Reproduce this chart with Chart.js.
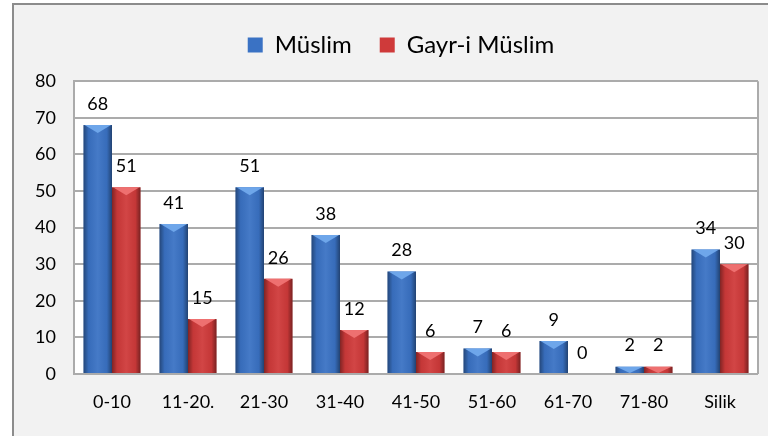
<!DOCTYPE html>
<html>
<head>
<meta charset="utf-8">
<script src="https://cdn.jsdelivr.net/npm/chart.js@4"></script>
<style>
html, body { margin: 0; padding: 0; background: #fff; }
#wrap { width: 768px; height: 436px; position: relative; }
</style>
</head>
<body>
<div id="wrap"><canvas id="myChart"></canvas></div>
<script>
const labels = ['0-10', '11-20.', '21-30', '31-40', '41-50', '51-60', '61-70', '71-80', 'Silik'];
const muslim = [68, 41, 51, 38, 28, 7, 9, 2, 34];
const gayriMuslim = [51, 15, 26, 12, 6, 6, 0, 2, 30];
const yTicks = [0, 10, 20, 30, 40, 50, 60, 70, 80];

const FONT = 'Lato';

// frame, plot background, bar shading and value labels
const barLook = {
    id: 'barLook',
    beforeDraw(chart) {
        const c = chart.ctx, a = chart.chartArea;
        c.save();
        c.fillStyle = '#fff';
        c.fillRect(0, 0, chart.width, chart.height);
        c.fillStyle = '#f2f2f2';
        c.fillRect(13, 4, chart.width, chart.height);
        c.strokeStyle = '#8c8c8c';
        c.lineWidth = 2;
        c.beginPath();
        c.moveTo(13, chart.height);
        c.lineTo(13, 4);
        c.lineTo(chart.width, 4);
        c.stroke();
        c.fillStyle = '#fff';
        c.fillRect(a.left, a.top, a.width, a.height);
        c.restore();
    },
    afterDatasetsDraw(chart) {
        const c = chart.ctx;
        c.save();
        chart.data.datasets.forEach((ds, i) => {
            chart.getDatasetMeta(i).data.forEach((bar) => {
                const w = bar.width, l = bar.x - w / 2;
                const top = Math.min(bar.y, bar.base), h = Math.abs(bar.base - bar.y);
                if (h < 0.5) return;
                const g = c.createLinearGradient(l, 0, l + w, 0);
                g.addColorStop(0, 'rgba(0,0,0,0.38)');
                g.addColorStop(0.18, 'rgba(0,0,0,0.05)');
                g.addColorStop(0.5, 'rgba(255,255,255,0.06)');
                g.addColorStop(0.82, 'rgba(0,0,0,0.05)');
                g.addColorStop(1, 'rgba(0,0,0,0.42)');
                c.fillStyle = g;
                c.fillRect(l, top, w, h);
                const ch = Math.min(8, h);
                c.fillStyle = ds.chevron;
                c.beginPath();
                c.moveTo(l + 1, top);
                c.lineTo(l + w - 1, top);
                c.lineTo(bar.x, top + ch);
                c.closePath();
                c.fill();
            });
        });
        c.font = '18px ' + FONT;
        c.fillStyle = '#000';
        c.textAlign = 'center';
        c.textBaseline = 'middle';
        chart.data.datasets.forEach((ds, i) => {
            chart.getDatasetMeta(i).data.forEach((bar, j) => {
                c.fillText(String(ds.data[j]), bar.x, bar.y - 21);
            });
        });
        c.restore();
    },
    afterDraw(chart) {
        const c = chart.ctx, a = chart.chartArea;
        c.save();
        c.strokeStyle = '#ababab';
        c.lineWidth = 2;
        c.beginPath();
        c.moveTo(a.right, a.top);
        c.lineTo(a.right, a.bottom);
        c.stroke();
        c.restore();
    }
};

const ctx = document.getElementById('myChart').getContext('2d');

const config = {
    type: 'bar',
    data: {
        labels: labels,
        datasets: [{
            label: 'Müslim',
            data: muslim,
            backgroundColor: '#3a72c4',
            borderColor: '#1f4a85',
            borderWidth: 0,
            chevron: '#6ea6ea'
        }, {
            label: 'Gayr-i Müslim',
            data: gayriMuslim,
            backgroundColor: '#cf3a3a',
            borderColor: '#8e2222',
            borderWidth: 0,
            chevron: '#ee7070'
        }]
    },
    options: {
        responsive: true,
        maintainAspectRatio: false,
        animation: false,
        categoryPercentage: 0.75,
        barPercentage: 1.0,
        layout: { padding: { left: 44, right: 10, top: 5, bottom: 0 } },
        plugins: {
            legend: {
                position: 'top',
                weight: 3000,
                labels: {
                    color: '#000',
                    font: { family: FONT, size: 24 },
                    boxWidth: 15,
                    boxHeight: 15,
                    padding: 28
                }
            },
            title: {
                display: true,
                text: '',
                font: { size: 1 },
                padding: { top: 0, bottom: 13 }
            },
            tooltip: { enabled: false }
        },
        scales: {
            x: {
                grid: { display: false, drawTicks: false },
                border: { display: false },
                ticks: { color: '#000', font: { family: FONT, size: 18 }, padding: 17 },
                afterFit(s) { s.height = 62; }
            },
            y: {
                min: 0,
                max: 80,
                grid: { color: '#ababab', lineWidth: 2, drawTicks: false },
                border: { color: '#ababab', width: 2 },
                // mirrored so the labels are not clipped to the narrow axis box
                ticks: { color: '#000', font: { family: FONT, size: 18 }, mirror: true, crossAlign: 'far', padding: -39 },
                afterBuildTicks(s) { s.ticks = yTicks.map(v => ({ value: v })); },
                afterFit(s) { s.width = 30; }
            }
        }
    },
    plugins: [barLook]
};

const myChart = new Chart(ctx, config);
</script>
</body>
</html>
